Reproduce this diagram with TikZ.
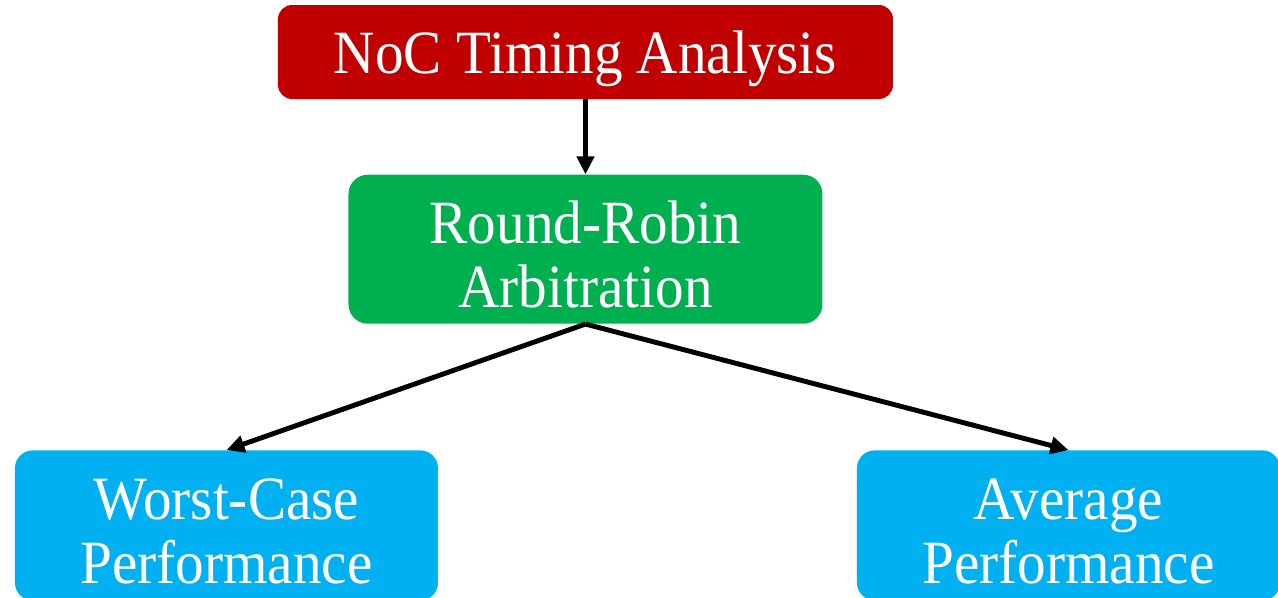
\documentclass[tikz,border=0pt]{standalone}
\usepackage{fontspec}
\setmainfont{Liberation Serif}[FakeStretch=0.93]
\usepackage{tikz}
\usetikzlibrary{arrows.meta,positioning}
\definecolor{nocred}{HTML}{C00000}
\definecolor{rrgreen}{HTML}{00B050}
\definecolor{perfblue}{HTML}{00B0F0}
\newcommand{\firstline}{\rule{0pt}{30pt}}
\tikzset{
  flowbox/.style={rectangle,draw=none,text=white,align=center,
    font=\fontsize{35}{36.5}\selectfont,inner sep=0pt,text depth=0pt},
  topbox/.style={flowbox,fill=nocred,rounded corners=8pt,
    minimum width=12.3cm,minimum height=1.88cm},
  midbox/.style={flowbox,fill=rrgreen,rounded corners=11pt,
    minimum width=9.48cm,minimum height=2.98cm},
  leafbox/.style={flowbox,fill=perfblue,rounded corners=10pt,
    minimum width=8.46cm,minimum height=3.0cm},
  flowarr/.style={-{Triangle[length=0.36cm,width=0.34cm]},line width=2.8pt,color=black},
}
\begin{document}
\begin{tikzpicture}
  \useasboundingbox (-11.71,1.04) rectangle (13.85,-10.90);
  \node[topbox] (noc) at (0,0) {NoC Timing Analysis};
  \node[midbox, below=1.5cm of noc] (rr) {\firstline Round-Robin\\Arbitration};
  \node[leafbox, below=2.52cm of rr, xshift=-7.18cm] (wc) {\firstline Worst-Case\\Performance};
  \node[leafbox, below=2.52cm of rr, xshift=9.66cm] (avg) {\firstline Average\\Performance};

  \draw[flowarr] (noc) -- (rr);
  \draw[flowarr] (rr.south) -- (wc.north);
  \draw[flowarr] (rr.south) -- (avg.north);
\end{tikzpicture}
\end{document}
